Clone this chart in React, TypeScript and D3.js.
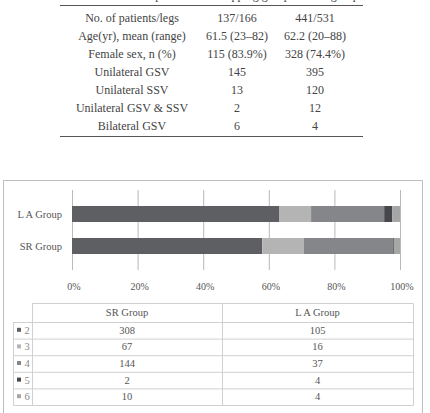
import React, { useEffect } from 'react';
import * as d3 from 'd3';

// top table
const headCols = ['Description', 'Stripping group', 'Laser group'];
const rowLabels = [
  'No. of patients/legs',
  'Age(yr), mean (range)',
  'Female sex, n (%)',
  'Unilateral GSV',
  'Unilateral SSV',
  'Unilateral GSV & SSV',
  'Bilateral GSV',
];
const srCol = ['137/166', '61.5 (23\u201382)', '115 (83.9%)', '145', '13', '2', '6'];
const laCol = ['441/531', '62.2 (20\u201388)', '328 (74.4%)', '395', '120', '12', '4'];

// chart
const groups = ['L A Group', 'SR Group'];
const seriesKeys = ['2', '3', '4', '5', '6'];
const srValues = [308, 67, 144, 2, 10];
const laValues = [105, 16, 37, 4, 4];
const colors = ['#5d5f63', '#b4b4b4', '#858689', '#45474c', '#a6a6a6'];
const ticks = [0, 0.2, 0.4, 0.6, 0.8, 1];

const W = 430;
const H = 413;

const App = () => {
  useEffect(() => {
    document.body.style.margin = '0';
  }, []);

  const rows = groups.map((g) => {
    const vals = g === 'SR Group' ? srValues : laValues;
    const r: { [k: string]: any } = { group: g };
    seriesKeys.forEach((k, i) => (r[k] = vals[i]));
    return r;
  });
  const stacked = d3.stack<any>().keys(seriesKeys).offset(d3.stackOffsetExpand)(rows);

  const x = d3.scaleLinear().domain([0, 1]).range([72, 400]);
  const y = d3.scaleBand<string>().domain(groups).range([190, 270]).padding(0.5);

  // top table layout
  const tRow = d3.scaleBand<number>().domain(d3.range(rowLabels.length)).range([9, 135]);
  const tCol = [132, 237, 315];

  // bottom table layout
  const bx = [13, 32, 222, 413];
  const bRows = d3.range(seriesKeys.length);
  const bY = d3.scaleBand<number>().domain(bRows).range([322, 405]);

  const serif = '"Liberation Serif", "DejaVu Serif", serif';

  return (
    <svg width={W} height={H} style={{ display: 'block', fontFamily: serif }}>
      <rect width={W} height={H} fill="#fff" />
      {/* top table */}
      <g fontSize={12} fill="#444" textAnchor="middle">
        {headCols.map((h, i) => (
          <text key={h} x={tCol[i] + (i === 0 ? 20 : 15)} y={-1}>
            {h}
          </text>
        ))}
        <line x1={60} x2={363} y1={5.5} y2={5.5} stroke="#555" />
        {rowLabels.map((l, i) => (
          <g key={l} transform={`translate(0,${(tRow(i) as number) + tRow.bandwidth() / 2 + 4})`}>
            <text x={tCol[0]}>{l}</text>
            <text x={tCol[1]}>{srCol[i]}</text>
            <text x={tCol[2]}>{laCol[i]}</text>
          </g>
        ))}
        <line x1={60} x2={363} y1={136.5} y2={136.5} stroke="#555" />
      </g>

      {/* chart frame */}
      <path d={`M3.5,${H}V180.5H422.5V${H}`} fill="none" stroke="#bdbdbd" />

      {/* grid */}
      {ticks.map((t) => (
        <line key={t} x1={x(t) + 0.5} x2={x(t) + 0.5} y1={190} y2={270} stroke={t === 0 ? '#bbb' : '#999'} strokeWidth={t === 0 ? 1 : 0.7} />
      ))}

      {/* bars */}
      {stacked.map((s, si) => (
        <g key={s.key} fill={colors[si]}>
          {s.map((d) => (
            <rect
              key={d.data.group}
              x={x(d[0])}
              width={x(d[1]) - x(d[0])}
              y={y(d.data.group)}
              height={y.bandwidth()}
            />
          ))}
        </g>
      ))}

      {/* category labels */}
      <g fontSize={10.5} fill="#555" textAnchor="end">
        {groups.map((g) => (
          <text key={g} x={62} y={(y(g) as number) + y.bandwidth() / 2 + 3.5}>
            {g}
          </text>
        ))}
      </g>

      {/* tick labels */}
      <g fontSize={10} fill="#555" textAnchor="middle">
        {ticks.map((t) => (
          <text key={t} x={x(t) + 2} y={290}>
            {d3.format('.0%')(t)}
          </text>
        ))}
      </g>

      {/* data table */}
      <g stroke="#d0d0d0" fill="none">
        <path d={`M${bx[1] + 0.5},303.5H${bx[3] + 0.5}V405.5H${bx[0] + 0.5}V322.5`} />
        <line x1={bx[0]} x2={bx[3]} y1={322.5} y2={322.5} />
        {bRows.slice(1).map((r) => (
          <line key={r} x1={bx[0]} x2={bx[3]} y1={(bY(r) as number) + 0.5} y2={(bY(r) as number) + 0.5} />
        ))}
        <line x1={bx[1] + 0.5} x2={bx[1] + 0.5} y1={303} y2={405} />
        <line x1={bx[2] + 0.5} x2={bx[2] + 0.5} y1={303} y2={405} />
      </g>
      <g fontSize={10.5} fill="#555" textAnchor="middle">
        <text x={(bx[1] + bx[2]) / 2} y={316}>
          SR Group
        </text>
        <text x={(bx[2] + bx[3]) / 2} y={316}>
          L A Group
        </text>
        {bRows.map((r) => {
          const cy = (bY(r) as number) + bY.bandwidth() / 2;
          return (
            <g key={r}>
              <rect x={17} y={cy - 2.5} width={4} height={4} fill={colors[r]} />
              <text x={27} y={cy + 3.5} textAnchor="middle" fill="#888">
                {seriesKeys[r]}
              </text>
              <text x={(bx[1] + bx[2]) / 2} y={cy + 3.5}>
                {srValues[r]}
              </text>
              <text x={(bx[2] + bx[3]) / 2} y={cy + 3.5}>
                {laValues[r]}
              </text>
            </g>
          );
        })}
      </g>
    </svg>
  );
};

export default App;
